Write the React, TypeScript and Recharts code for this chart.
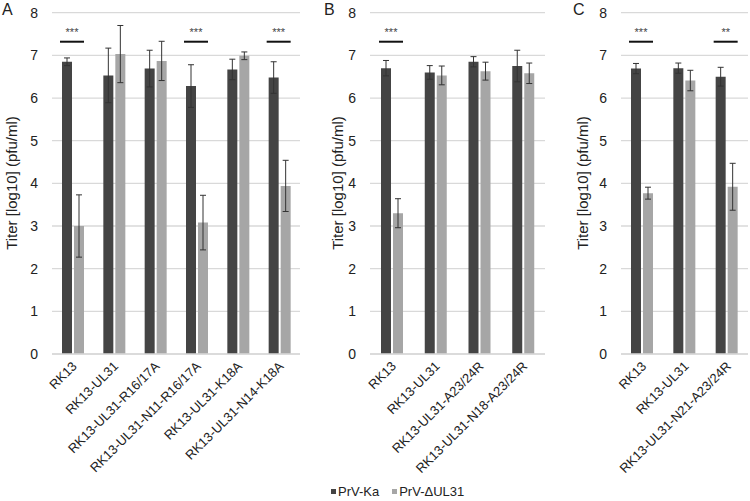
import React from "react";
import {
  BarChart,
  Bar,
  XAxis,
  YAxis,
  CartesianGrid,
  ErrorBar,
  LabelList,
  Legend,
} from "recharts";

// ---------- Data ----------
const catsA = [
  "RK13",
  "RK13-UL31",
  "RK13-UL31-R16/17A",
  "RK13-UL31-N11-R16/17A",
  "RK13-UL31-K18A",
  "RK13-UL31-N14-K18A",
];
const kaA = [6.85, 6.53, 6.69, 6.28, 6.67, 6.48];
const kaErrA = [0.09, 0.64, 0.43, 0.5, 0.24, 0.37];
const delA = [3.0, 7.03, 6.87, 3.08, 6.99, 3.94];
const delErrA = [0.73, 0.67, 0.46, 0.64, 0.09, 0.6];
const sigA = ["***", "", "", "***", "", "***"];

const catsB = ["RK13", "RK13-UL31", "RK13-UL31-A23/24R", "RK13-UL31-N18-A23/24R"];
const kaB = [6.7, 6.6, 6.85, 6.75];
const kaErrB = [0.18, 0.16, 0.12, 0.37];
const delB = [3.3, 6.53, 6.63, 6.58];
const delErrB = [0.34, 0.22, 0.21, 0.24];
const sigB = ["***", "", "", ""];

const catsC = ["RK13", "RK13-UL31", "RK13-UL31-N21-A23/24R"];
const kaC = [6.69, 6.7, 6.5];
const kaErrC = [0.12, 0.12, 0.22];
const delC = [3.77, 6.41, 3.92];
const delErrC = [0.14, 0.24, 0.55];
const sigC = ["***", "", "**"];

const yTicks = [0, 1, 2, 3, 4, 5, 6, 7, 8];
const seriesNames = ["PrV-Ka", "PrV-\u0394UL31"];
const yLabel = "Titer [log10] (pfu/ml)";

// ---------- Styles ----------
const FONT = "'Liberation Sans', Arial, sans-serif";
const DARK = "#444444";
const LIGHT = "#a6a6a6";
const GRID = "#d9d9d9";
const SIG_LEVEL = 7.32;

function build(cats: string[], ka: number[], kaErr: number[], del: number[], delErr: number[], sig: string[]) {
  return cats.map((c, i) => ({
    name: c,
    ka: ka[i],
    kaErr: kaErr[i],
    del: del[i],
    delErr: delErr[i],
    sig: sig[i],
  }));
}

const dataA = build(catsA, kaA, kaErrA, delA, delErrA, sigA);
const dataB = build(catsB, kaB, kaErrB, delB, delErrB, sigB);
const dataC = build(catsC, kaC, kaErrC, delC, delErrC, sigC);

const XTick = (props: any) => {
  const { x, y, payload } = props;
  const ax = Number(x) + 5;
  const ay = Number(y) + 13;
  return (
    <text
      x={ax}
      y={ay}
      transform={`rotate(-45 ${ax} ${ay})`}
      textAnchor="end"
      fontSize={13}
      fontFamily={FONT}
      fill="#222"
    >
      {payload.value}
    </text>
  );
};

const makeSig = (kaVals: number[]) => (props: any) => {
  const { index, value } = props;
  if (!value) return null;
  const x = Number(props.x);
  const y = Number(props.y);
  const w = Number(props.width);
  const h = Number(props.height);
  const v = kaVals[index];
  if (!v || !h) return null;
  const base = y + h;
  const ppu = h / v;
  const ly = base - SIG_LEVEL * ppu;
  const x1 = x - 2;
  const x2 = x + 2 * w + 2;
  return (
    <g>
      <line x1={x1} x2={x2} y1={ly} y2={ly} stroke="#111" strokeWidth={2} />
      <text
        x={(x1 + x2) / 2}
        y={ly - 6}
        textAnchor="middle"
        fontSize={11}
        fontFamily={FONT}
        fill="#444"
      >
        {value}
      </text>
    </g>
  );
};

const LegendContent = () => (
  <div
    style={{
      display: "flex",
      alignItems: "center",
      fontFamily: FONT,
      fontSize: 13,
      color: "#222",
      whiteSpace: "nowrap",
      lineHeight: "15px",
    }}
  >
    <span style={{ width: 5, height: 5, background: DARK, display: "inline-block", marginRight: 2 }} />
    <span>{seriesNames[0]}</span>
    <span style={{ width: 5, height: 5, background: LIGHT, display: "inline-block", marginLeft: 13, marginRight: 2 }} />
    <span>{seriesNames[1]}</span>
  </div>
);

type PanelProps = {
  data: any[];
  ka: number[];
  left: number;
  width: number;
  axisWidth: number;
  labelX: number;
  rightMargin: number;
  letter: string;
  letterX: number;
  legend?: boolean;
};

const Panel = (p: PanelProps) => {
  const H = 501;
  const top = 12.7;
  const plotBottom = 354;
  return (
    <div style={{ position: "absolute", left: p.left, top: 0, width: p.width, height: H }}>
      <div
        style={{
          position: "absolute",
          left: p.letterX,
          top: 0,
          fontFamily: FONT,
          fontSize: 16,
          color: "#222",
          lineHeight: "20px",
        }}
      >
        {p.letter}
      </div>
      <BarChart
        width={p.width}
        height={H}
        data={p.data}
        margin={{ top, right: p.rightMargin, left: 0, bottom: 0 }}
        barGap={2}
        barSize={10}
      >
        <CartesianGrid vertical={false} stroke={GRID} strokeWidth={1.3} />
        <XAxis
          dataKey="name"
          interval={0}
          height={H - plotBottom}
          tickSize={0}
          tickMargin={0}
          tickLine={false}
          axisLine={{ stroke: GRID, strokeWidth: 1.3 }}
          tick={<XTick />}
        />
        <YAxis
          domain={[0, 8]}
          ticks={yTicks}
          width={p.axisWidth}
          axisLine={false}
          tickLine={false}
          tickSize={0}
          tickMargin={14}
          tick={{ fontSize: 14, fontFamily: FONT, fill: "#222" }}
          label={{
            content: () => (
              <text
                x={p.labelX}
                y={183}
                transform={`rotate(-90 ${p.labelX} 183)`}
                textAnchor="middle"
                fontSize={15}
                fontFamily={FONT}
                fill="#222"
              >
                {yLabel}
              </text>
            ),
          }}
        />
        {p.legend && (
          <Legend
            layout="horizontal"
            verticalAlign="middle"
            align="center"
            content={<LegendContent />}
            wrapperStyle={{ left: 31, top: 484, width: 160, height: 15 }}
          />
        )}
        <Bar dataKey="ka" name={seriesNames[0]} fill={DARK} isAnimationActive={false}>
          <ErrorBar dataKey="kaErr" width={3} stroke="#333" strokeWidth={1} />
          <LabelList dataKey="sig" content={makeSig(p.ka)} />
        </Bar>
        <Bar dataKey="del" name={seriesNames[1]} fill={LIGHT} isAnimationActive={false}>
          <ErrorBar dataKey="delErr" width={3} stroke="#333" strokeWidth={1} />
        </Bar>
      </BarChart>
    </div>
  );
}

export default function App() {
  return (
    <div
      style={{
        position: "absolute",
        left: 0,
        top: 0,
        width: 750,
        height: 501,
        background: "#fff",
        overflow: "hidden",
      }}
    >
      <Panel data={dataA} ka={kaA} left={0} width={302} axisWidth={52} labelX={17} rightMargin={2} letter="A" letterX={2} />
      <Panel data={dataB} ka={kaB} left={300} width={250} axisWidth={70} labelX={43} rightMargin={5} letter="B" letterX={24} legend />
      <Panel data={dataC} ka={kaC} left={550} width={200} axisWidth={71} labelX={38} rightMargin={2} letter="C" letterX={23} />
    </div>
  );
}
